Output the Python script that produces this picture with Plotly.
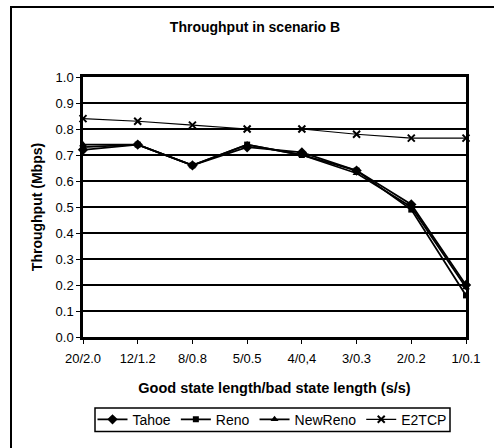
import plotly.graph_objects as go

# Channel scenario: good state length / bad state length (seconds)
categories = ["20/2.0", "12/1.2", "8/0.8", "5/0.5", "4/0,4", "3/0.3", "2/0.2", "1/0.1"]

# Throughput (Mbps) per TCP variant
tahoe = [0.72, 0.74, 0.66, 0.73, 0.71, 0.64, 0.51, 0.20]
reno = [0.73, 0.74, 0.66, 0.74, 0.70, 0.64, 0.49, 0.16]
newreno = [0.74, 0.74, 0.66, 0.74, 0.70, 0.63, 0.50, 0.19]
e2tcp = [0.84, 0.83, 0.815, 0.80, 0.80, 0.78, 0.765, 0.765]

W, H = 494, 448
L, R, T, B = 83, 28, 77, 107
pw, ph = W - L - R, H - T - B

FONT = "Liberation Sans, Arial, sans-serif"

fig = go.Figure()

series = [
    ("Tahoe", tahoe, dict(symbol="diamond", size=8), 1.8),
    ("Reno", reno, dict(symbol="square", size=6), 1.8),
    ("NewReno", newreno, dict(symbol="triangle-up", size=7), 1.8),
    ("E2TCP", e2tcp, dict(symbol="x-thin", size=7, line=dict(width=2, color="black")), 1.1),
]
for name, vals, marker, lw in series:
    fig.add_trace(go.Scatter(
        x=categories, y=vals, name=name, mode="lines+markers",
        line=dict(color="black", width=lw),
        marker=dict(color="black", **marker),
        cliponaxis=False,
    ))

def px_x(p):
    return (p - L) / pw

def px_y(p):
    return (H - B - p) / ph

# Outer chart frame (runs past the right and bottom page edges)
fig.add_shape(type="rect", xref="paper", yref="paper",
              x0=px_x(11), x1=px_x(500), y0=px_y(455), y1=px_y(6),
              line=dict(color="black", width=2), layer="below")

# Legend frame
fig.add_shape(type="rect", xref="paper", yref="paper",
              x0=px_x(95), x1=px_x(450), y0=px_y(437), y1=px_y(413),
              line=dict(color="black", width=1.5), layer="below")

fig.update_layout(
    width=W, height=H,
    margin=dict(l=L, r=R, t=T, b=B),
    paper_bgcolor="white", plot_bgcolor="white",
    font=dict(family=FONT, size=13, color="black"),
    title=dict(text="<b>Throughput in scenario B</b>", x=255 / W, xanchor="center",
               y=1 - 27 / H, yanchor="middle", yref="container",
               font=dict(size=14, family=FONT)),
    showlegend=True,
    legend=dict(orientation="h", x=px_x(272), xanchor="center",
                y=px_y(425), yanchor="middle",
                bgcolor="rgba(0,0,0,0)", borderwidth=0,
                font=dict(size=14, family=FONT),
                itemwidth=30, tracegroupgap=0),
    xaxis=dict(
        type="category", range=[0, len(categories) - 1],
        showline=True, linecolor="black", linewidth=2.5, mirror=True,
        ticks="outside", ticklen=4, tickcolor="black", tickwidth=1,
        ticklabelstandoff=4,
        showgrid=False, zeroline=False,
        tickfont=dict(size=13, family=FONT),
        title=dict(text="<b>Good state length/bad state length (s/s)</b>",
                   font=dict(size=14.5, family=FONT), standoff=18),
    ),
    yaxis=dict(
        range=[0, 1.0], dtick=0.1, tick0=0, tickformat=".1f",
        showline=True, linecolor="black", linewidth=2.5, mirror=True,
        ticks="outside", ticklen=4, tickcolor="black", tickwidth=1,
        showgrid=True, gridcolor="black", gridwidth=1.5,
        zeroline=False,
        tickfont=dict(size=13, family=FONT),
        title=dict(text="<b>Throughput (Mbps)</b>",
                   font=dict(size=14, family=FONT), standoff=10),
    ),
)

fig.write_html("out.html")
